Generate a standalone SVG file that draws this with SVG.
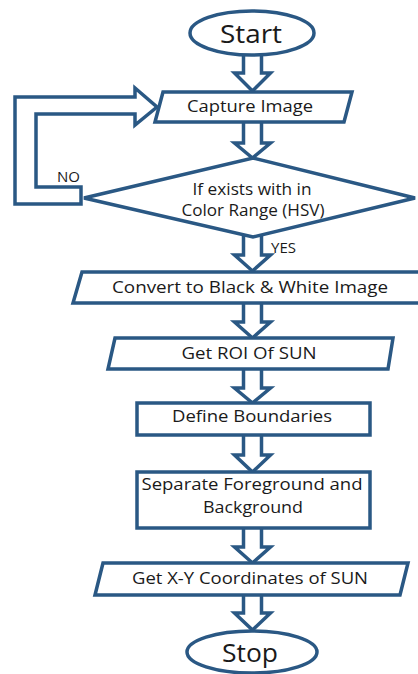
<svg xmlns="http://www.w3.org/2000/svg" width="418" height="674" viewBox="0 0 418 674">
<style>
.s{fill:#fff;stroke:#2A5884;stroke-width:3.5;stroke-linejoin:miter}
.c{fill:#fff;stroke:#2A5884;stroke-width:3.5;stroke-linejoin:miter}
text{font-family:"Open Sans","Liberation Sans",sans-serif;fill:#1a1a1a;font-size:16px;text-anchor:middle}
.lbl{text-anchor:start;font-size:15px}
.big{font-size:25px}
</style>
<rect width="418" height="674" fill="#fff"/>
<g id="connectors">
<path class="c" d="M243.5,52 L243.5,73 L234.5,73 L252.5,91 L270.5,73 L261.5,73 L261.5,52 Z"/>
<path class="c" d="M243.5,119 L243.5,143 L234.5,143 L252.5,158 L270.5,143 L261.5,143 L261.5,119 Z"/>
<path class="c" d="M243.5,232 L243.5,255 L234.5,255 L252.5,271 L270.5,255 L261.5,255 L261.5,232 Z"/>
<path class="c" d="M243.5,300 L243.5,322 L234.5,322 L252.5,338 L270.5,322 L261.5,322 L261.5,300 Z"/>
<path class="c" d="M243.5,366 L243.5,388 L234.5,388 L252.5,403 L270.5,388 L261.5,388 L261.5,366 Z"/>
<path class="c" d="M243.5,432 L243.5,455 L234.5,455 L252.5,472 L270.5,455 L261.5,455 L261.5,432 Z"/>
<path class="c" d="M243.5,525 L243.5,547 L234.5,547 L252.5,563 L270.5,547 L261.5,547 L261.5,525 Z"/>
<path class="c" d="M243.5,592 L243.5,613 L234.5,613 L252.5,630 L270.5,613 L261.5,613 L261.5,592 Z"/>
<path id="no-loop" class="c" d="M81,187 L36,187 L36,114 L135,114 L135,125 L157,107 L135,88 L135,97 L15,97 L15,204 L81,204 Z"/>
<text class="lbl" x="57" y="182">NO</text>
<text class="lbl" x="271" y="253">YES</text>
</g>
<g id="start">
<ellipse class="s" cx="252" cy="33" rx="62" ry="22"/>
<text class="big" x="251" y="43" textLength="62" lengthAdjust="spacingAndGlyphs">Start</text>
</g>
<g id="capture">
<polygon class="s" points="163,92 352,92 344,122 155,122"/>
<text x="250" y="112" textLength="126" lengthAdjust="spacingAndGlyphs">Capture Image</text>
</g>
<g id="decision">
<polygon class="s" points="253,158 415,198 253,237 84,198"/>
<text x="252" y="195" textLength="119" lengthAdjust="spacingAndGlyphs">If exists with in</text>
<text x="253" y="216" textLength="143" lengthAdjust="spacingAndGlyphs">Color Range (HSV)</text>
</g>
<g id="convert">
<polygon class="s" points="82,272 428,272 420,303 73,303"/>
<text x="250" y="293" textLength="276" lengthAdjust="spacingAndGlyphs">Convert to Black &amp; White Image</text>
</g>
<g id="roi">
<polygon class="s" points="115,338 393,338 388,369 108,369"/>
<text x="249" y="359" textLength="135" lengthAdjust="spacingAndGlyphs">Get ROI Of SUN</text>
</g>
<g id="define">
<rect class="s" x="137" y="403" width="233" height="32"/>
<text x="252" y="422" textLength="160" lengthAdjust="spacingAndGlyphs">Define Boundaries</text>
</g>
<g id="separate">
<rect class="s" x="137" y="472" width="233" height="56"/>
<text x="252" y="490" textLength="221" lengthAdjust="spacingAndGlyphs">Separate Foreground and</text>
<text x="253" y="513" textLength="100" lengthAdjust="spacingAndGlyphs">Background</text>
</g>
<g id="coords">
<polygon class="s" points="103,563 408,563 400,595 95,595"/>
<text x="250" y="584" textLength="236" lengthAdjust="spacingAndGlyphs">Get X-Y Coordinates of SUN</text>
</g>
<g id="stop">
<ellipse class="s" cx="252" cy="652" rx="65" ry="21"/>
<text class="big" x="250" y="662" textLength="56" lengthAdjust="spacingAndGlyphs">Stop</text>
</g>
</svg>
